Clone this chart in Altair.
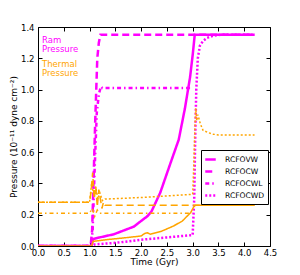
import altair as alt
import pandas as pd

# ---- data ----
models = ["RCFOVW", "RCFOCW", "RCFOCWL", "RCFOCWD"]
x_ticks = [0.0, 0.5, 1.0, 1.5, 2.0, 2.5, 3.0, 3.5, 4.0, 4.5]
y_ticks = [0.0, 0.2, 0.4, 0.6, 0.8, 1.0, 1.2, 1.4]

# ram pressure (magenta)
ram_vw_t = [0, 1.04, 1.07, 1.2, 1.47, 1.86, 2.0, 2.12, 2.2, 2.37, 2.57, 2.73, 2.85, 2.95, 3.0, 3.04, 3.5, 4.2]
ram_vw_p = [0, 0, 0.045, 0.055, 0.075, 0.124, 0.16, 0.19, 0.22, 0.34, 0.53, 0.68, 0.88, 1.08, 1.22, 1.35, 1.35, 1.35]
ram_cw_t = [0, 1.02, 1.05, 1.08, 1.11, 1.15, 1.18, 1.21, 4.2]
ram_cw_p = [0, 0, 0.1, 0.45, 0.8, 1.2, 1.3, 1.35, 1.35]
ram_cwl_t = [0, 1.03, 1.06, 1.1, 1.14, 1.18, 1.22, 1.25, 2.96]
ram_cwl_p = [0, 0, 0.1, 0.5, 0.85, 0.97, 1.02, 1.01, 1.01]
ram_cwd_t = [0, 1.05, 1.1, 1.5, 2.0, 2.5, 3.0, 3.03, 3.05, 3.07, 3.1, 3.14, 3.2, 3.28, 3.4, 3.55, 4.2]
ram_cwd_p = [0, 0, 0.01, 0.02, 0.04, 0.055, 0.07, 0.3, 0.7, 1.0, 1.2, 1.28, 1.31, 1.33, 1.345, 1.35, 1.35]

# thermal pressure (orange)
th_vw_t = [0, 1.04, 1.07, 1.2, 1.4, 1.7, 2.0, 2.07, 2.12, 2.18, 2.4, 2.63, 2.8, 2.96, 3.02, 3.05, 4.2]
th_vw_p = [0, 0, 0.03, 0.035, 0.043, 0.053, 0.064, 0.08, 0.085, 0.075, 0.095, 0.128, 0.16, 0.213, 0.25, 0.26, 0.26]
th_cw_t = [0, 1.0, 1.03, 1.06, 1.09, 1.12, 1.15, 1.18, 1.21, 1.24, 1.27, 1.3, 4.2]
th_cw_p = [0.28, 0.28, 0.35, 0.47, 0.30, 0.38, 0.25, 0.36, 0.30, 0.24, 0.28, 0.26, 0.26]
th_cwl_t = [0, 1.0, 1.05, 1.1, 1.15, 1.2, 2.99]
th_cwl_p = [0.21, 0.21, 0.24, 0.19, 0.23, 0.21, 0.21]
th_cwd_t = [0, 1.0, 1.04, 1.08, 1.12, 1.16, 1.2, 1.25, 1.3, 2.0, 2.5, 3.0, 3.02, 3.04, 3.06, 3.08, 3.1, 3.15, 3.2, 3.3, 3.4, 3.5, 3.7, 4.2]
th_cwd_p = [0.28, 0.28, 0.4, 0.33, 0.38, 0.30, 0.34, 0.29, 0.30, 0.31, 0.32, 0.33, 0.5, 0.72, 0.88, 0.80, 0.84, 0.78, 0.74, 0.725, 0.715, 0.71, 0.71, 0.71]

series = [
    ("ram", "RCFOVW", ram_vw_t, ram_vw_p),
    ("ram", "RCFOCW", ram_cw_t, ram_cw_p),
    ("ram", "RCFOCWL", ram_cwl_t, ram_cwl_p),
    ("ram", "RCFOCWD", ram_cwd_t, ram_cwd_p),
    ("thermal", "RCFOVW", th_vw_t, th_vw_p),
    ("thermal", "RCFOCW", th_cw_t, th_cw_p),
    ("thermal", "RCFOCWL", th_cwl_t, th_cwl_p),
    ("thermal", "RCFOCWD", th_cwd_t, th_cwd_p),
]
rows = []
for kind, model, ts, ps in series:
    for i, (t, p) in enumerate(zip(ts, ps)):
        rows.append({"kind": kind, "model": model, "t": t, "p": p, "i": i})
df = pd.DataFrame(rows)

MAG = "#ff00ff"
ORA = "#ffa500"
FONT = "DejaVu Sans"

xs = alt.Scale(domain=[0, 4.5], nice=False, zero=False)
ys = alt.Scale(domain=[0, 1.4], nice=False, zero=False)

base = alt.Chart(df)

lines = base.mark_line(clip=True, strokeCap="butt").encode(
    x=alt.X("t:Q", scale=xs, axis=alt.Axis(
        values=x_ticks, format=".1f", ticks=False, domain=False, grid=False,
        labelFlush=False, labelPadding=2, title="Time (Gyr)", titlePadding=1)),
    y=alt.Y("p:Q", scale=ys, axis=alt.Axis(
        values=y_ticks, format=".1f", ticks=False, domain=False, grid=False,
        labelFlush=False, labelPadding=4, title="Pressure (10⁻¹¹ dyne cm⁻²)", titlePadding=2)),
    color=alt.Color("kind:N", scale=alt.Scale(domain=["ram", "thermal"], range=[MAG, ORA]), legend=None),
    strokeWidth=alt.StrokeWidth("kind:N", scale=alt.Scale(domain=["ram", "thermal"], range=[2.5, 1.5]), legend=None),
    strokeDash=alt.StrokeDash("model:N", scale=alt.Scale(
        domain=models, range=[[1, 0], [7, 4], [4, 3, 1.5, 3], [2, 2]]),
        legend=alt.Legend(title=None, orient="none", legendX=163, legendY=123,
                          strokeColor="black", fillColor="white", padding=3,
                          labelFontSize=7.6, labelFont=FONT, symbolType="stroke",
                          symbolSize=110, symbolStrokeWidth=2.5, symbolStrokeColor=MAG,
                          rowPadding=0, labelOffset=8, cornerRadius=0)),
    detail="kind:N",
    order="i:Q",
)

def tick_layer(xo, yo):
    return base.mark_point(opacity=0).encode(
        x=alt.X("t:Q", scale=xs, axis=alt.Axis(
            orient=xo, values=x_ticks, labels=False, domain=False, grid=False,
            ticks=True, tickSize=4, tickWidth=1, offset=-4, title=None, tickColor="black")),
        y=alt.Y("p:Q", scale=ys, axis=alt.Axis(
            orient=yo, values=y_ticks, labels=False, domain=False, grid=False,
            ticks=True, tickSize=4, tickWidth=1, offset=-4, title=None, tickColor="black")),
    )

ram_txt = alt.Chart(pd.DataFrame({"a": [0]})).mark_text(
    align="left", baseline="top", fontSize=8.5, lineHeight=9, font=FONT, color=MAG
).encode(x=alt.value(4), y=alt.value(9), text=alt.value(["Ram", "Pressure"]))
th_txt = alt.Chart(pd.DataFrame({"a": [0]})).mark_text(
    align="left", baseline="top", fontSize=8.5, lineHeight=9, font=FONT, color=ORA
).encode(x=alt.value(4), y=alt.value(33), text=alt.value(["Thermal", "Pressure"]))

chart = alt.layer(
    lines, tick_layer("bottom", "left"), tick_layer("top", "right"), ram_txt, th_txt
).resolve_axis(x="independent", y="independent").properties(
    width=232, height=219,
    autosize=alt.AutoSizeParams(type="none"),
    padding={"left": 30, "top": 19, "right": 22, "bottom": 23},
).configure_view(stroke="black", strokeWidth=1).configure_axis(
    labelFont=FONT, titleFont=FONT, labelFontSize=8.5, titleFontSize=9,
    labelColor="black", titleColor="black", titleFontWeight="normal"
)

chart.save("out.html", embed_options={"renderer": "svg", "actions": False})
